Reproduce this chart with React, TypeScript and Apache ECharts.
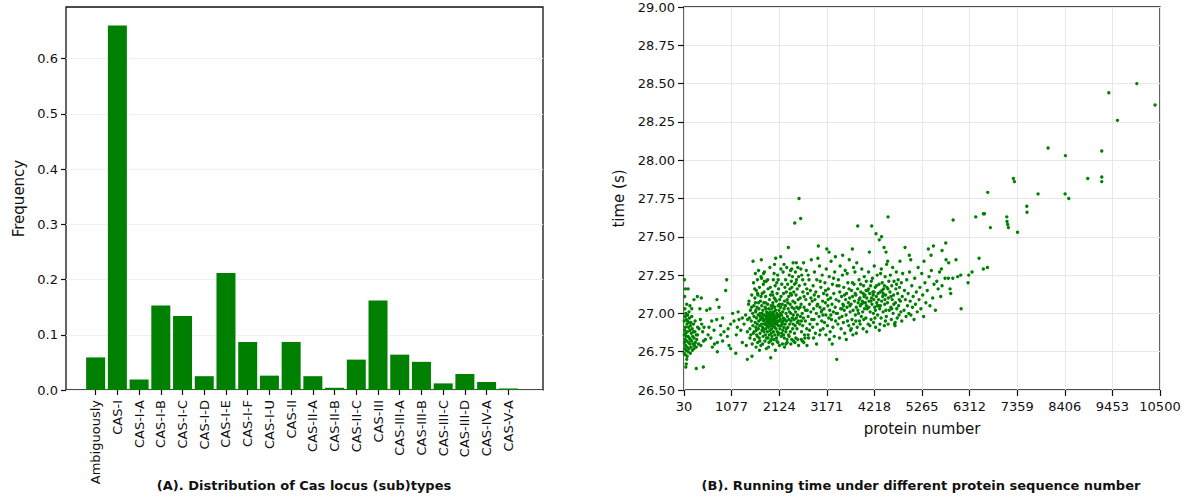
import React, { useEffect, useRef } from "react";
import * as echarts from "echarts";

const categories = [
  "Ambiguously", "CAS-I", "CAS-I-A", "CAS-I-B", "CAS-I-C", "CAS-I-D", "CAS-I-E", "CAS-I-F",
  "CAS-I-U", "CAS-II", "CAS-II-A", "CAS-II-B", "CAS-II-C", "CAS-III", "CAS-III-A", "CAS-III-B",
  "CAS-III-C", "CAS-III-D", "CAS-IV-A", "CAS-V-A",
];
const frequencies = [
  0.059, 0.66, 0.019, 0.153, 0.134, 0.025, 0.212, 0.087, 0.026, 0.087,
  0.025, 0.004, 0.055, 0.162, 0.064, 0.051, 0.012, 0.029, 0.0145, 0.0025,
];
const freqTicks = [0, 0.1, 0.2, 0.3, 0.4, 0.5, 0.6];

const proteinTicks = [30, 1077, 2124, 3171, 4218, 5265, 6312, 7359, 8406, 9453, 10500];
const timeTicks = [26.5, 26.75, 27.0, 27.25, 27.5, 27.75, 28.0, 28.25, 28.5, 28.75, 29.0];

// [protein number, running time (s)]
const smallInputs: number[][] = [
  [40,27.22],[60,27.16],[45,27.11],[90,27.06],[120,27.16],[70,27.00],[55,26.98],[110,26.99],[140,27.01],[35,26.95],
  [80,26.96],[150,26.97],[200,26.98],[95,26.93],[130,26.94],[175,26.92],[60,26.91],[210,26.90],[240,26.93],[45,26.89],
  [105,26.88],[160,26.89],[190,26.87],[270,26.88],[300,26.86],[35,26.86],[75,26.85],[120,26.85],[145,26.84],[220,26.85],
  [250,26.84],[330,26.86],[55,26.83],[90,26.82],[170,26.83],[200,26.82],[280,26.81],[310,26.83],[40,26.81],[130,26.81],
  [160,26.80],[230,26.80],[260,26.79],[350,26.80],[65,26.79],[100,26.78],[185,26.78],[300,26.78],[45,26.77],[140,26.77],
  [215,26.76],[80,26.76],[120,26.75],[250,26.77],[170,26.74],[35,26.74],[60,26.73],[100,26.72],[90,26.70],[80,26.67],
  [70,26.65],[300,26.64],[455,26.65],[250,27.09],[323,27.11],[411,27.10],[380,27.03],[420,26.93],[440,26.88],[390,26.96],
  [460,26.82],[400,26.79],[360,26.90],[275,26.95],[330,26.91],[200,27.03],[160,27.05],[90,26.99],[50,27.03],[110,26.95],
  [130,26.91],[70,26.87],[240,26.88],[180,26.94],
];
const sparseInputs: number[][] = [
  [529,27.02],[602,27.03],[755,27.09],[800,27.04],[969,27.22],[947,27.15],[750,26.96],[470,26.91],[580,26.91],[690,26.89],
  [836,26.92],[910,26.88],[1056,26.93],[1130,26.95],[1240,26.96],[1313,26.97],[1386,26.99],[983,26.85],[763,26.81],[653,26.78],
  [763,26.75],[1056,26.77],[1313,26.81],[1423,26.88],[1203,26.91],[560,26.86],[620,26.84],[700,26.80],[880,26.82],[1000,26.90],
  [1100,27.00],[1180,26.86],[1280,26.89],[1350,26.93],[1450,27.06],[1400,26.79],[1170,26.74],[880,26.97],[640,26.95],[500,26.83],
  [1480,26.84],[1430,26.96],[1220,27.01],[840,26.86],[1020,26.79],[1423,26.70],
];
const mainCluster: number[][] = [
  [1460,27.08],[1470,26.97],[1480,26.90],[1490,27.02],[1500,26.86],[1510,26.95],[1520,27.12],[1530,26.80],[1540,27.00],[1548,27.34],
  [1545,26.92],[1525,26.72],[1560,27.20],[1565,27.05],[1570,26.98],[1575,26.88],[1580,26.83],[1590,27.10],[1595,26.94],[1600,27.26],
  [1605,27.01],[1610,26.91],[1615,26.78],[1620,27.15],[1625,26.97],[1630,26.86],[1635,27.04],[1640,26.93],[1645,27.22],[1650,26.81],
  [1600,27.07],[1620,26.89],[1655,27.12],[1660,26.99],[1665,26.90],[1670,27.28],[1675,26.95],[1680,27.03],[1685,26.84],[1690,27.17],
  [1695,26.92],[1700,27.00],[1705,26.87],[1710,27.08],[1715,26.96],[1720,26.79],[1725,27.24],[1731,27.35],[1735,26.93],[1740,27.05],
  [1745,26.89],[1750,27.13],[1690,26.76],[1710,26.98],[1755,26.97],[1760,26.91],[1765,27.02],[1770,26.85],[1775,27.19],[1780,26.95],
  [1785,27.07],[1790,26.88],[1795,26.99],[1800,27.27],[1805,26.93],[1810,26.82],[1815,27.04],[1820,26.96],[1825,27.11],[1830,26.90],
  [1835,26.98],[1840,26.77],[1845,27.01],[1850,26.94],[1770,26.99],[1790,27.14],[1810,26.93],[1830,27.03],[1760,26.80],[1820,26.86],
  [1840,27.21],[1800,26.96],[1855,26.92],[1860,27.00],[1862,26.97],[1865,26.88],[1870,27.06],[1875,26.95],[1878,26.84],[1880,27.16],
  [1885,26.99],[1888,26.91],[1890,26.78],[1895,27.03],[1900,26.96],[1902,26.93],[1905,26.86],[1910,27.09],[1912,26.98],[1915,26.94],
  [1920,27.30],[1922,26.89],[1925,27.01],[1930,26.96],[1932,26.82],[1935,27.12],[1937,26.71],[1940,26.97],[1942,26.92],[1945,27.05],
  [1948,26.87],[1950,26.99],[1880,26.94],[1900,27.00],[1955,26.95],[1958,26.90],[1960,27.03],[1963,26.98],[1965,26.85],[1970,27.14],
  [1972,26.93],[1975,26.97],[1978,27.00],[1980,26.80],[1985,27.07],[1988,26.92],[1990,26.96],[1995,27.22],[1998,26.88],[2000,27.01],
  [2005,26.94],[2008,26.99],[2010,26.83],[2015,27.10],[2018,26.96],[2020,26.91],[2025,27.04],[2028,26.86],[2030,26.98],[2035,27.18],
  [2038,26.93],[2040,26.76],[2045,27.02],[2047,27.36],[2050,26.95],[1990,27.05],[2055,26.90],[2060,27.08],[2063,26.97],[2065,26.84],
  [2070,27.00],[2075,26.93],[2078,27.13],[2080,26.88],[2085,26.99],[2090,27.25],[2093,26.95],[2095,26.81],[2100,27.05],[2105,26.92],
  [2108,26.98],[2110,27.16],[2115,26.87],[2120,27.02],[2125,26.95],[2130,26.79],[2135,27.09],[2140,26.90],[2145,27.00],[2150,26.96],
  [2070,27.20],[2100,26.86],[2130,27.06],[2060,26.94],[2155,27.04],[2157,27.37],[2160,26.92],[2165,27.11],[2170,26.85],[2175,26.99],
  [2180,27.19],[2185,26.94],[2190,27.06],[2195,26.80],[2200,27.01],[2205,26.89],[2210,27.27],[2215,26.97],[2220,27.13],[2225,26.91],
  [2230,27.03],[2235,26.84],[2240,27.08],[2245,26.96],[2250,27.17],[2180,26.87],[2210,26.95],[2240,26.78],[2255,26.93],[2260,27.05],
  [2265,27.22],[2270,26.88],[2275,27.00],[2280,27.14],[2285,26.95],[2290,27.30],[2295,26.83],[2300,27.09],[2305,26.98],[2310,27.19],
  [2315,26.91],[2320,27.03],[2325,27.43],[2330,26.86],[2335,27.11],[2340,26.96],[2345,27.25],[2350,27.01],[2270,26.80],[2300,26.81],
  [2355,26.93],[2360,27.16],[2365,27.06],[2370,26.88],[2375,27.28],[2380,27.00],[2385,26.95],[2390,27.21],[2395,27.12],[2400,26.83],
  [2405,27.04],[2410,26.97],[2415,27.24],[2420,26.90],[2425,27.08],[2430,27.33],[2435,26.99],[2440,26.82],[2445,27.14],[2450,27.03],
  [2455,26.96],[2460,27.19],[2466,27.59],[2470,27.07],[2475,26.92],[2480,27.27],[2485,27.01],[2490,26.84],[2495,27.12],[2500,26.97],
  [2505,27.22],[2510,27.04],[2515,26.90],[2520,27.16],[2525,26.99],[2530,26.83],[2535,27.30],[2540,27.09],[2545,26.95],[2550,27.03],
  [2560,27.75],[2565,27.18],[2575,26.93],[2585,27.10],[2596,27.62],[2590,26.98],[2605,27.06],[2615,26.88],[2620,27.25],[2630,27.00],
  [2640,26.92],[2645,27.14],[2655,26.97],[2660,27.33],[2670,27.04],[2680,26.86],[2690,27.19],[2700,26.95],[2710,27.09],[2720,27.28],
  [2730,26.90],[2740,27.02],[2750,27.13],[2760,26.98],[2770,26.84],[2780,27.22],[2790,27.06],[2800,26.93],[2810,27.15],[2820,27.01],
  [2830,27.35],[2840,26.96],[2850,27.08],[2665,26.81],[2735,26.79],[2635,26.82],
];
const mainClusterFill: number[][] = [
  [1515,27.04],[1555,26.87],[1585,27.16],[1612,27.02],[1642,26.85],[1668,27.07],[1698,26.82],[1722,27.11],[1748,27.00],[1772,26.90],
  [1798,27.21],[1822,27.07],[1848,26.84],[1872,27.22],[1898,26.81],[1928,27.17],[1952,26.83],[1982,27.12],[2012,27.26],[2042,27.09],
  [2072,26.82],[2102,27.22],[2132,26.98],[2162,27.29],[2192,26.93],[2222,26.86],[2252,27.05],[2282,26.90],[2312,27.07],[2342,26.85],
  [2372,27.13],[2402,27.17],[2432,26.93],[2462,26.87],[2492,27.20],[2522,26.94],[2552,27.24],[2582,27.04],[2612,26.95],[2642,27.22],
  [2672,27.11],[2702,27.02],[2732,27.16],[2762,27.25],[2792,26.89],[2822,27.10],[2610,26.83],[2690,26.84],[2760,26.86],[2550,26.79],
  [2470,26.81],[2380,26.80],[1650,27.13],[1735,27.23],[1780,27.26],[2020,27.32],[2230,27.32],[2400,27.29],[2500,27.33],[2600,27.29],
];
const upperCluster: number[][] = [
  [2860,26.91],[2870,27.18],[2880,27.03],[2890,26.96],[2900,27.27],[2910,27.09],[2920,26.87],[2930,27.14],[2940,27.00],[2950,27.22],
  [2960,26.93],[2970,27.06],[2985,27.44],[2990,27.11],[3000,26.98],[3010,27.31],[3020,27.04],[3030,26.89],[3040,27.17],[3050,27.01],
  [3060,26.95],[3070,27.25],[3080,27.08],[3090,26.90],[3100,27.13],[2880,26.84],[2945,26.80],[3015,26.86],[2975,27.36],[3065,27.02],
  [3110,27.03],[3120,26.94],[3130,27.20],[3140,27.07],[3150,26.99],[3160,27.29],[3170,27.42],[3175,27.12],[3185,26.92],[3195,27.05],
  [3205,27.16],[3215,26.97],[3225,27.24],[3235,27.02],[3245,26.88],[3255,27.10],[3265,27.34],[3275,26.96],[3285,27.06],[3295,27.19],
  [3305,26.91],[3315,27.01],[3325,27.13],[3335,26.85],[3345,27.27],[3355,27.04],[3365,26.95],[3375,27.09],[3390,26.70],[3395,27.18],
  [3150,26.86],[3230,26.83],[3290,26.80],[3360,27.37],[3220,27.40],[3405,27.00],[3415,26.93],[3425,27.22],[3435,27.08],[3445,26.97],
  [3455,27.14],[3465,27.31],[3475,27.03],[3485,26.90],[3495,27.11],[3505,26.98],[3515,27.25],[3525,27.06],[3535,26.94],[3545,27.17],
  [3555,27.02],[3565,26.87],[3575,27.28],[3585,27.09],[3595,26.99],[3605,27.13],[3615,27.04],[3625,26.95],[3635,27.20],[3645,27.07],
  [3655,26.92],[3665,27.35],[3675,27.10],[3685,27.01],[3695,26.89],[3450,26.84],[3520,27.38],[3600,26.83],[3660,27.16],[3540,27.05],
  [3705,27.06],[3715,27.15],[3725,26.96],[3733,27.42],[3740,27.11],[3750,27.02],[3760,26.93],[3770,27.19],[3780,27.08],[3790,27.27],
  [3800,26.99],[3810,27.12],[3820,27.04],[3830,27.33],[3840,26.91],[3850,27.16],[3851,27.57],[3860,27.07],[3870,27.00],[3880,27.22],
  [3890,26.95],[3900,27.10],[3910,27.05],[3920,27.14],[3930,26.98],[3940,27.29],[3950,27.08],[3960,27.01],[3970,26.90],[3980,27.18],
  [3990,27.11],[4000,27.03],[3760,27.30],[3820,26.87],[3880,27.09],[3930,27.06],[3970,27.13],[3745,26.86],[3905,26.93],[3995,27.24],
  [4010,27.12],[4020,27.07],[4030,26.97],[4040,27.21],[4050,27.10],[4060,27.03],[4070,27.15],[4080,26.93],[4090,27.27],[4100,27.08],
  [4107,27.40],[4115,27.13],[4125,27.01],[4135,27.18],[4145,26.96],[4155,27.10],[4159,27.57],[4165,27.06],[4175,27.23],[4185,27.14],
  [4195,27.00],[4205,27.09],[4215,27.31],[4225,27.04],[4235,27.17],[4245,26.91],[4254,27.52],[4260,27.11],[4270,27.07],[4280,27.25],
  [4290,26.99],[4300,27.13],[4040,27.05],[4090,27.16],[4140,27.08],[4190,27.12],[4240,27.02],[4050,26.88],[4200,26.94],[4280,27.05],
  [4310,27.09],[4320,27.19],[4326,27.48],[4326,26.89],[4335,27.03],[4345,27.14],[4355,27.26],[4365,26.97],[4375,27.50],[4379,27.08],
  [4390,27.20],[4400,27.11],[4410,27.01],[4420,27.16],[4430,27.43],[4437,26.92],[4445,27.06],[4455,27.24],[4465,27.12],[4474,27.40],
  [4480,26.98],[4487,27.32],[4495,27.17],[4505,27.07],[4510,27.34],[4518,27.63],[4525,27.10],[4535,27.21],[4545,27.02],[4350,27.05],
  [4410,27.13],[4460,26.95],[4520,26.93],[4370,27.29],[4440,27.18],[4560,27.14],[4570,27.25],[4580,27.04],[4590,26.96],[4600,27.18],
  [4610,27.09],[4620,27.30],[4630,27.00],[4640,27.12],[4650,27.21],[4660,26.93],[4672,26.92],[4675,26.94],[4680,27.07],[4690,27.16],
  [4700,27.27],[4710,27.03],[4720,26.97],[4730,27.13],[4740,27.22],[4750,27.05],[4760,26.99],[4770,27.17],[4780,27.34],[4790,27.08],
  [4800,27.01],[4810,27.20],[4820,26.95],[4830,27.11],[4840,27.26],
];
const upperClusterFill: number[][] = [
  [2895,27.12],[2955,27.05],[3025,27.21],[3085,26.99],[3145,27.15],[3200,27.09],[3260,26.99],[3320,27.23],[3380,27.00],[3440,27.18],
  [3500,27.03],[3560,27.12],[3620,27.26],[3680,27.05],[3735,27.20],[3795,27.13],[3855,27.02],[3915,27.19],[3975,27.07],[4035,27.15],
  [4095,27.04],[4150,27.21],[4210,27.14],[4265,27.18],[4315,27.05],[4385,27.15],[4450,27.09],[4515,27.16],[4585,27.11],[4645,27.06],
  [4705,27.19],[4765,27.09],[3710,26.90],[3810,26.95],[3985,26.96],[4120,26.92],[4230,26.97],[4340,26.93],[4470,27.02],[4600,27.03],
];
const tailInputs: number[][] = [
  [4870,27.02],[4880,27.15],[4892,27.43],[4900,27.09],[4915,26.98],[4930,27.22],[4945,27.05],[4960,27.13],[4975,27.00],[4986,27.38],
  [4990,27.27],[5005,27.08],[5017,27.35],[5020,26.99],[5040,27.18],[5055,27.04],[5070,27.11],[5090,26.96],[5105,27.23],[5120,27.06],
  [5140,27.14],[5160,27.01],[5180,27.30],[5200,27.09],[5220,27.17],[5240,27.03],[5260,27.26],[5280,27.12],[5300,26.98],[5310,27.34],
  [5330,27.20],[5350,27.07],[5380,27.15],[5405,27.42],[5420,27.24],[5440,27.05],[5464,27.38],[5470,27.28],[5500,27.10],[5516,27.44],
  [5530,27.19],[5560,27.02],[5590,27.21],[5620,27.16],[5650,27.27],[5677,27.11],[5691,27.29],[5706,27.41],[5706,27.18],[5772,27.23],
  [5787,27.46],[5794,27.35],[5845,27.23],[5852,27.33],[5882,27.16],[5897,27.13],[5942,27.23],[5949,27.61],[6013,27.35],[6051,27.24],
  [6117,27.25],[6125,27.03],[6278,27.20],[6293,27.25],[6366,27.27],[6520,27.36],[6615,27.29],[6704,27.30],
  [6447,27.63],[6615,27.65],[6640,27.65],[6711,27.79],[6769,27.56],[7130,27.63],[7135,27.60],[7150,27.58],[7165,27.56],[7275,27.88],
  [7297,27.86],[7366,27.53],[7570,27.70],[7575,27.66],[7818,27.78],[8038,28.08],[8412,27.78],[8419,28.03],[8493,27.75],[8911,27.88],
  [9219,28.06],[9219,27.89],[9219,27.86],[9374,28.44],[9563,28.26],[9990,28.50],[10392,28.36],
];
const runningTimes = [
  ...smallInputs, ...sparseInputs, ...mainCluster, ...mainClusterFill, ...upperCluster, ...upperClusterFill, ...tailInputs,
];

const FONT = "DejaVu Sans";
const GREEN = "#008000";
const INK = "#111";

export default function App() {
  const ref = useRef<HTMLDivElement>(null);
  useEffect(() => {
    if (!ref.current) return;
    const chart = echarts.init(ref.current, undefined, { renderer: "svg" });
    const freqMax = 0.6935;
    chart.setOption({
      animation: false,
      backgroundColor: "#fff",
      textStyle: { fontFamily: FONT },
      grid: [
        { left: 66, top: 7, width: 477, height: 383, show: true, borderColor: INK, borderWidth: 1.3, backgroundColor: "transparent" },
        { left: 84.8, top: 7, width: 434.4, height: 383 },
        { left: 684, top: 7, width: 476, height: 383, show: true, borderColor: INK, borderWidth: 1.3, backgroundColor: "transparent" },
      ],
      xAxis: [
        { type: "value", gridIndex: 0, min: 0, max: 1, axisLine: { show: false }, axisTick: { show: false }, axisLabel: { show: false }, splitLine: { show: false } },
        {
          type: "category", gridIndex: 1, data: categories, boundaryGap: true,
          axisLine: { show: false },
          axisTick: { show: true, alignWithLabel: true, length: 5, lineStyle: { color: INK, width: 1.2 } },
          axisLabel: { rotate: 90, interval: 0, fontSize: 13, color: INK, margin: 10, fontFamily: FONT },
          splitLine: { show: false },
        },
        {
          type: "value", gridIndex: 2, min: proteinTicks[0], max: proteinTicks[proteinTicks.length - 1], interval: proteinTicks[1] - proteinTicks[0],
          axisLine: { show: false },
          axisTick: { show: true, length: 6, lineStyle: { color: INK, width: 1.2 } },
          axisLabel: { fontSize: 13, color: INK, margin: 10, fontFamily: FONT, hideOverlap: false, formatter: (v: number) => String(Math.round(v)) },
          splitLine: { show: true, lineStyle: { color: "#e8e8e8", width: 1 } },
          name: "protein number", nameLocation: "middle", nameGap: 31,
          nameTextStyle: { fontSize: 15, color: INK, fontFamily: FONT },
        },
      ],
      yAxis: [
        {
          type: "value", gridIndex: 0, min: 0, max: freqMax, interval: 0.1,
          axisLine: { show: false },
          axisTick: { show: true, length: 5, customValues: freqTicks, lineStyle: { color: INK, width: 1.2 } },
          axisLabel: {
            fontSize: 13, color: INK, margin: 8, fontFamily: FONT, customValues: freqTicks,
            formatter: (v: number) => v.toFixed(1),
          },
          splitLine: { show: true, lineStyle: { color: "#f0f0f0", width: 1 } },
          name: "Frequency", nameLocation: "middle", nameGap: 40,
          nameTextStyle: { fontSize: 15, color: INK, fontFamily: FONT },
        },
        { type: "value", gridIndex: 1, min: 0, max: freqMax, show: false, splitLine: { show: false } },
        {
          type: "value", gridIndex: 2, min: timeTicks[0], max: timeTicks[timeTicks.length - 1], interval: timeTicks[1] - timeTicks[0],
          axisLine: { show: false },
          axisTick: { show: true, length: 6, lineStyle: { color: INK, width: 1.2 } },
          axisLabel: { fontSize: 13, color: INK, margin: 9, fontFamily: FONT, formatter: (v: number) => v.toFixed(2) },
          splitLine: { show: true, lineStyle: { color: "#e8e8e8", width: 1 } },
          name: "time (s)", nameLocation: "middle", nameGap: 58,
          nameTextStyle: { fontSize: 15, color: INK, fontFamily: FONT },
        },
      ],
      series: [
        {
          type: "bar", xAxisIndex: 1, yAxisIndex: 1, data: frequencies, barWidth: 19,
          itemStyle: { color: GREEN }, silent: true,
        },
        {
          type: "scatter", xAxisIndex: 2, yAxisIndex: 2, data: runningTimes, symbol: "circle", symbolSize: 3.4,
          itemStyle: { color: GREEN, opacity: 1 }, silent: true,
        },
      ],
      graphic: [
        {
          type: "text", x: 304, y: 485,
          style: { text: "(A). Distribution of Cas locus (sub)types", fontFamily: FONT, fontWeight: "bold", fontSize: 13, fill: INK, align: "center", verticalAlign: "middle" },
        },
        {
          type: "text", x: 921, y: 485,
          style: { text: "(B). Running time under different protein sequence number", fontFamily: FONT, fontWeight: "bold", fontSize: 13, fill: INK, align: "center", verticalAlign: "middle" },
        },
      ],
    });
    return () => chart.dispose();
  }, []);
  return <div ref={ref} style={{ position: "fixed", left: 0, top: 0, width: 1191, height: 501 }} />;
}
